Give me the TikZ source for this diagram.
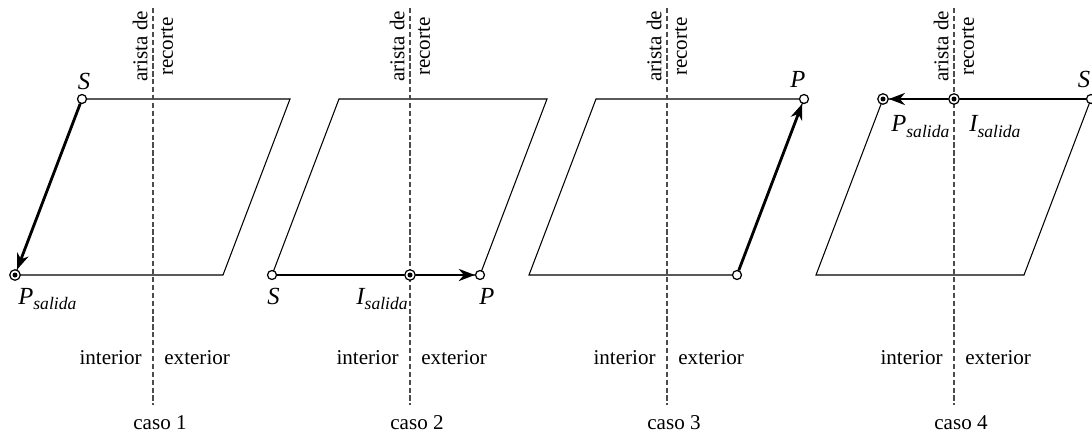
\documentclass[tikz,border=0pt]{standalone}
\usepackage{fontspec}
\setmainfont{Liberation Serif}
\usetikzlibrary{arrows.meta}

\tikzset{
  borde/.style={line width=0.6pt},
  arista/.style={dash pattern=on 3pt off 1.5pt, black!70, line width=0.6pt},
  vector/.style={line width=1.6pt, -{Stealth[length=3.2mm,width=2.4mm,inset=1mm]}},
  tramo/.style={line width=1.6pt},
  pto/.style={circle, draw, fill=white, inner sep=0pt, minimum size=1.8mm, line width=0.7pt},
  ptosal/.style={pto, minimum size=2.1mm,
    path picture={\fill[black] (path picture bounding box.center) circle (0.5mm);}},
  etiq/.style={font=\fontsize{14}{16}\selectfont\itshape, inner sep=0pt, anchor=base},
  texto/.style={font=\fontsize{12}{14.5}\selectfont, inner sep=0pt},
}
\newcommand{\sal}[1]{#1\raisebox{-0.45ex}{\fontsize{10}{10}\selectfont salida}}

\begin{document}
\begin{tikzpicture}
  \useasboundingbox (0,0) rectangle (21.84,8.68);

  % caso 1
  \begin{scope}[shift={(0.30,3.18)}]
   \draw[borde] (0,0) -- (4.16,0) -- (5.50,3.52) -- (1.34,3.52) -- cycle;
   \draw[arista] (2.76,5.34) -- (2.76,-2.6);
   \node[texto, rotate=90, align=center] (ar1) at (2.76,4.57) {arista de\\recorte};
   \node[texto, anchor=east] (in1) at (2.54,-1.66) {interior};
   \node[texto, anchor=west] (ex1) at (2.98,-1.66) {exterior};
   \node[texto] (c1) at (2.90,-2.96) {caso 1};
   \node[pto] (s1) at (1.34,3.52) {};
   \node[ptosal] (p1) at (0,0) {};
   \node[etiq] (ls1) at (1.38,3.72) {S};
   \node[etiq, anchor=base west] (lp1) at (0.06,-0.58) {\sal{P}};
   \draw[vector] (s1) -- (p1);
  \end{scope}

  % caso 2
  \begin{scope}[shift={(5.44,3.18)}]
   \draw[borde] (0,0) -- (4.16,0) -- (5.50,3.52) -- (1.34,3.52) -- cycle;
   \draw[arista] (2.76,5.34) -- (2.76,-2.6);
   \node[texto, rotate=90, align=center] (ar2) at (2.76,4.57) {arista de\\recorte};
   \node[texto, anchor=east] (in2) at (2.54,-1.66) {interior};
   \node[texto, anchor=west] (ex2) at (2.98,-1.66) {exterior};
   \node[texto] (c2) at (2.90,-2.96) {caso 2};
   \node[pto] (s2) at (0,0) {};
   \node[ptosal] (i2) at (2.76,0) {};
   \node[pto] (p2) at (4.16,0) {};
   \node[etiq] (ls2) at (0.03,-0.58) {S};
   \node[etiq, anchor=base east] (li2) at (2.72,-0.58) {\sal{I}};
   \node[etiq] (lp2) at (4.30,-0.58) {P};
   \draw[tramo] (s2) -- (i2);
   \draw[vector] (i2) -- (p2);
  \end{scope}

  % caso 3
  \begin{scope}[shift={(10.58,3.18)}]
   \draw[borde] (0,0) -- (4.16,0) -- (5.50,3.52) -- (1.34,3.52) -- cycle;
   \draw[arista] (2.76,5.34) -- (2.76,-2.6);
   \node[texto, rotate=90, align=center] (ar3) at (2.76,4.57) {arista de\\recorte};
   \node[texto, anchor=east] (in3) at (2.54,-1.66) {interior};
   \node[texto, anchor=west] (ex3) at (2.98,-1.66) {exterior};
   \node[texto] (c3) at (2.90,-2.96) {caso 3};
   \node[pto] (s3) at (4.16,0) {};
   \node[pto] (p3) at (5.50,3.52) {};
   \node[etiq] (lp3) at (5.38,3.74) {P};
   \draw[vector] (s3) -- (p3);
  \end{scope}

  % caso 4
  \begin{scope}[shift={(16.32,3.18)}]
   \draw[borde] (0,0) -- (4.16,0) -- (5.50,3.52) -- (1.34,3.52) -- cycle;
   \draw[arista] (2.76,5.34) -- (2.76,-2.6);
   \node[texto, rotate=90, align=center] (ar4) at (2.76,4.57) {arista de\\recorte};
   \node[texto, anchor=east] (in4) at (2.54,-1.66) {interior};
   \node[texto, anchor=west] (ex4) at (2.98,-1.66) {exterior};
   \node[texto] (c4) at (2.90,-2.96) {caso 4};
   \node[pto] (s4) at (5.50,3.52) {};
   \node[ptosal] (i4) at (2.76,3.52) {};
   \node[ptosal] (p4) at (1.34,3.52) {};
   \node[etiq] (ls4) at (5.36,3.76) {S};
   \node[etiq, anchor=base west] (lp4) at (1.50,2.86) {\sal{P}};
   \node[etiq, anchor=base west] (li4) at (3.06,2.86) {\sal{I}};
   \draw[tramo] (s4) -- (i4);
   \draw[vector] (i4) -- (p4);
  \end{scope}
\end{tikzpicture}
\end{document}
